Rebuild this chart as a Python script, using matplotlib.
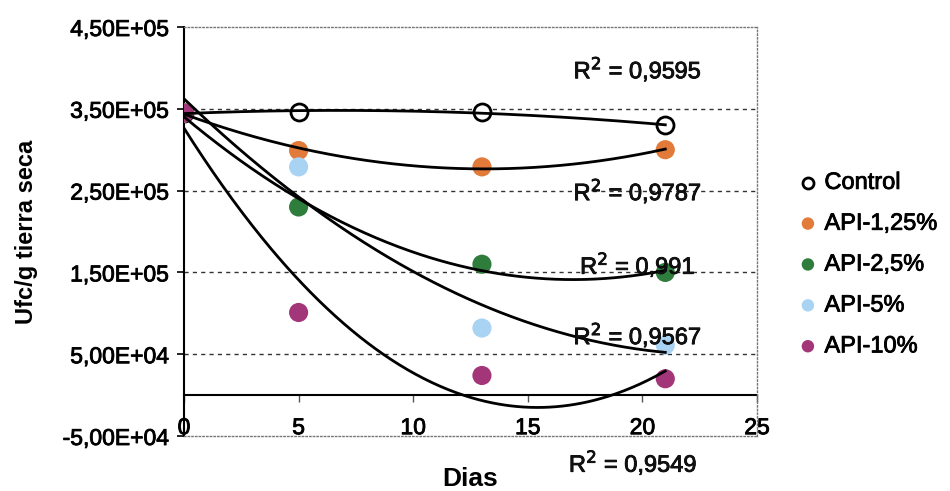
import numpy as np
import matplotlib
matplotlib.use("Agg")
import matplotlib.pyplot as plt
import matplotlib.patheffects as pe

plt.rcParams['font.family'] = ['Liberation Sans', 'DejaVu Sans']

dias = [0, 5, 13, 21]
series_names = ['Control', 'API-1,25%', 'API-2,5%', 'API-5%', 'API-10%']
control = [3.45e5, 3.46e5, 3.46e5, 3.30e5]
api_125 = [3.45e5, 2.99e5, 2.79e5, 3.00e5]
api_25 = [3.45e5, 2.30e5, 1.60e5, 1.50e5]
api_5 = [3.45e5, 2.79e5, 0.82e5, 0.61e5]
api_10 = [3.45e5, 1.01e5, 0.24e5, 0.20e5]
r2_labels = ['0,9595', '0,9787', '0,991', '0,9567', '0,9549']
r2_pos = [(19.8, 3.99e5), (19.8, 2.50e5), (19.8, 1.60e5), (19.8, 0.74e5), (19.6, -0.82e5)]
y_ticks = [-5e4, 5e4, 1.5e5, 2.5e5, 3.5e5, 4.5e5]
y_ticklabels = ['-5,00E+04', '5,00E+04', '1,50E+05', '2,50E+05', '3,50E+05', '4,50E+05']
x_ticks = [0, 5, 10, 15, 20, 25]

colors = ['black', '#E27A3A', '#2F7D3C', '#A9D3F3', '#A33579']
data = [control, api_125, api_25, api_5, api_10]

heavy = [pe.withStroke(linewidth=0.6, foreground='black')]

fig = plt.figure(figsize=(9.5, 4.91), dpi=100)
ax = fig.add_axes([0.1937, 0.112, 0.6031, 0.833])

ax.set_xlim(0, 25)
ax.set_ylim(-5e4, 4.5e5)

# gridlines
for yv in y_ticks[1:-1]:
    ax.axhline(yv, color='#333333', lw=1.0, ls=(0, (3, 3)), zorder=1)

xs = np.array(dias, dtype=float)
xfit = np.linspace(0, 21, 300)
handles = []
for name, ys, c in zip(series_names, data, colors):
    coef = np.polyfit(xs, np.array(ys), 2)
    ax.plot(xfit, np.polyval(coef, xfit), color='black', lw=2.0, zorder=4)
    if name == 'Control':
        h = ax.scatter(xs, ys, s=150, facecolors='white', edgecolors='black',
                       linewidths=2.0, zorder=3, label=name)
    else:
        h = ax.scatter(xs, ys, s=190, color=c, edgecolors='none', zorder=3, label=name)
    handles.append(h)

for lab, (px, py) in zip(r2_labels, r2_pos):
    ax.text(px, py, r'R$^{2}$ = ' + lab, ha='center', va='center', fontsize=17,
            color='#111111', zorder=6, path_effects=heavy)

# spines
for s in ['top', 'right', 'bottom']:
    ax.spines[s].set_color('#777777')
    ax.spines[s].set_linestyle(':')
    ax.spines[s].set_linewidth(1.0)
ax.spines['left'].set_color('black')
ax.spines['left'].set_linewidth(1.5)

ax.set_yticks(y_ticks)
ax.set_yticklabels(y_ticklabels)
ax.set_xticks(x_ticks)
ax.set_xticklabels([str(v) for v in x_ticks])
ax.tick_params(axis='y', direction='out', length=5, width=1.2, labelsize=16.5, pad=6)
ax.tick_params(axis='x', length=0, labelsize=16.5, pad=-6)
for lbl in ax.get_xticklabels():
    lbl.set_verticalalignment('center')
    lbl.set_path_effects(heavy)
for lbl in ax.get_yticklabels():
    lbl.set_path_effects(heavy)

# x axis line at y = 0
sec = ax.secondary_xaxis(0.1)
sec.set_xticks(x_ticks)
sec.set_xticklabels([])
sec.tick_params(direction='out', length=5, width=1.0, color='#555555')
sec.spines['bottom'].set_color('black')
sec.spines['bottom'].set_linewidth(1.5)

ax.set_ylabel('Ufc/g tierra seca', fontsize=17, fontweight='bold', labelpad=18)
ax.set_xlabel('Dias', fontsize=19, fontweight='bold', labelpad=20)

leg = fig.legend(handles=handles, labels=series_names, loc='center left',
                 bbox_to_anchor=(0.838, 0.461), frameon=False, fontsize=17,
                 handletextpad=0.2, labelspacing=0.8, handlelength=1.0,
                 markerscale=0.65, borderaxespad=0, borderpad=0)
for t in leg.get_texts():
    t.set_path_effects(heavy)

fig.savefig('out.png', dpi=100)
